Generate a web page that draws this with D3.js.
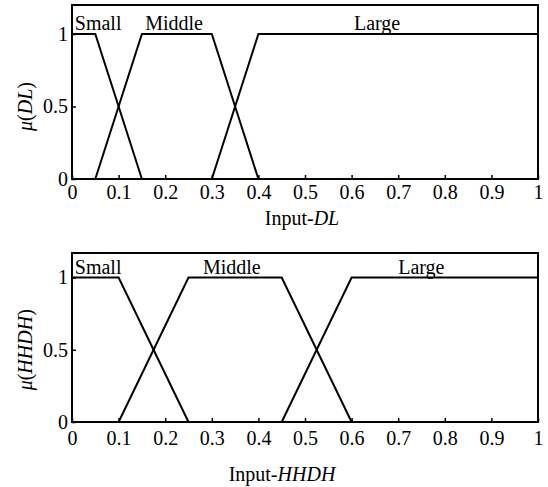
<!DOCTYPE html>
<html lang="en">
<head>
<meta charset="UTF-8">
<title>Membership functions</title>
<script src="https://unpkg.com/d3@7.8.5/dist/d3.min.js"></script>
<style>
  body { margin: 0; background: #fff; }
  svg text { font-family: "Liberation Serif", "Times New Roman", serif; fill: #000; }
</style>
</head>
<body>
<svg width="548" height="487"></svg>
<script>
// data
var xTicks = [0, 0.1, 0.2, 0.3, 0.4, 0.5, 0.6, 0.7, 0.8, 0.9, 1]
var yTicks = [0, 0.5, 1]
var setNames = ['Small', 'Middle', 'Large']
var mu = [[1, 1, 0], [0, 1, 1, 0], [0, 1, 1]]

var dlX = [[0, 0.05, 0.15], [0.05, 0.15, 0.3, 0.4], [0.3, 0.4, 1]]
var dlLabelX = [0.006, 0.157, 0.605]

var hhdhX = [[0, 0.1, 0.25], [0.1, 0.25, 0.45, 0.6], [0.45, 0.6, 1]]
var hhdhLabelX = [0.006, 0.281, 0.70]

var svg = d3.select('svg')

var x = d3.scaleLinear().domain([0, 1]).range([72, 538])

function panel(o) {
    var y = d3.scaleLinear().domain([0, o.yMax]).range([o.bottom, o.top])
    var g = svg.append('g')

    // x axis, ticks pointing inward
    var ax = g.append('g').attr('transform', 'translate(0,' + o.bottom + ')')
        .call(d3.axisBottom(x).tickValues(xTicks).tickSize(-4).tickPadding(o.pad)
            .tickFormat(d3.format('~g')))
    ax.select('.domain').remove()
    ax.selectAll('line').attr('stroke-width', 1.5)
    ax.selectAll('text').attr('font-size', 20).attr('font-family', null)

    var ay = g.append('g').attr('transform', 'translate(' + x(0) + ',0)')
        .call(d3.axisLeft(y).tickValues(yTicks).tickSize(-4).tickPadding(4)
            .tickFormat(d3.format('~g')))
    ay.select('.domain').remove()
    ay.selectAll('line').attr('stroke-width', 1.5)
    ay.selectAll('text').attr('font-size', 20).attr('font-family', null)

    // frame
    g.append('rect')
        .attr('x', x(0)).attr('y', y(o.yMax))
        .attr('width', x(1) - x(0)).attr('height', y(0) - y(o.yMax))
        .attr('fill', 'none').attr('stroke', '#000').attr('stroke-width', 2)

    // membership functions
    var line = d3.line().x(d => x(d[0])).y(d => y(d[1]))
    g.selectAll('path.mf').data(o.xs).enter()
        .append('path').attr('class', 'mf')
        .attr('d', (d, i) => line(d.map((v, j) => [v, mu[i][j]])))
        .attr('fill', 'none').attr('stroke', '#000').attr('stroke-width', 2)
        .attr('stroke-linejoin', 'miter')

    g.selectAll('text.name').data(setNames).enter()
        .append('text').attr('class', 'name')
        .attr('x', (d, i) => x(o.labelX[i]))
        .attr('y', y(1) - 4)
        .attr('font-size', 20)
        .text(d => d)

    // axis titles
    var xt = g.append('text').attr('x', o.xtX).attr('y', o.xtY)
        .attr('text-anchor', 'middle').attr('font-size', 20)
    xt.append('tspan').text('Input-')
    xt.append('tspan').attr('font-style', 'italic').text(o.name)

    var yt = g.append('text')
        .attr('transform', 'translate(32,' + y(0.5) + ') rotate(-90)')
        .attr('text-anchor', 'middle').attr('font-size', 20)
    yt.append('tspan').attr('font-style', 'italic').text('\u03bc')
    yt.append('tspan').text('(')
    yt.append('tspan').attr('font-style', 'italic').text(o.name)
    yt.append('tspan').text(')')
}

panel({ top: 5, bottom: 179, yMax: 1.2, pad: 6, xs: dlX, labelX: dlLabelX,
    name: 'DL', xtX: 302, xtY: 225 })
panel({ top: 253, bottom: 422, yMax: 1.17, pad: 9, xs: hhdhX, labelX: hhdhLabelX,
    name: 'HHDH', xtX: 282, xtY: 481 })
</script>
</body>
</html>
